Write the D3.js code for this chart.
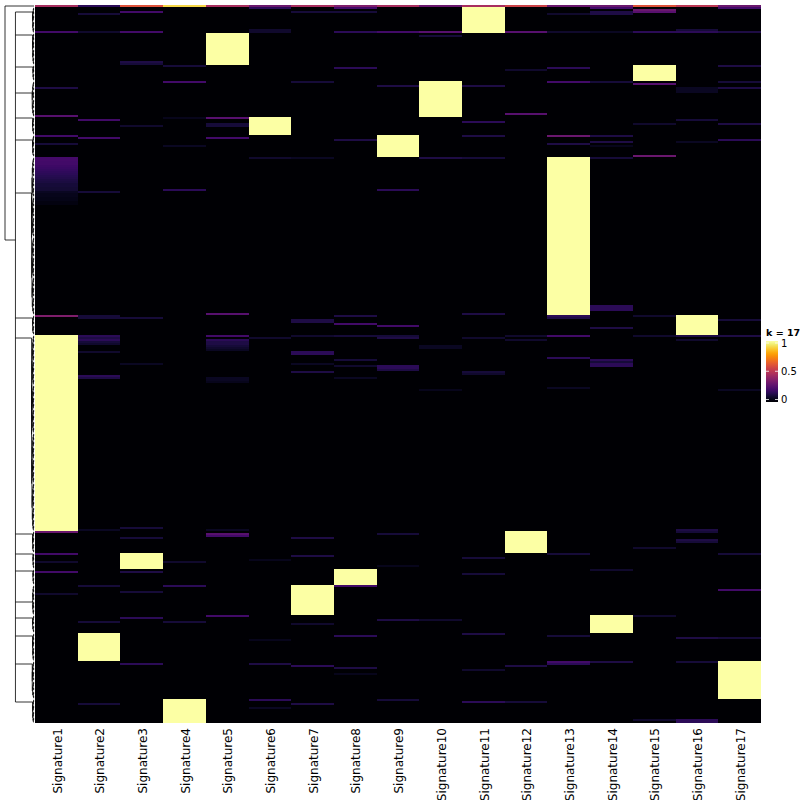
<!DOCTYPE html>
<html><head><meta charset="utf-8">
<script src="https://cdn.jsdelivr.net/npm/d3@7"></script>
<style>body{margin:0;background:#fff}svg{display:block}</style>
</head><body>
<svg id="chart" width="800" height="800"></svg>
<script>
// ---------------- DATA ----------------
const signatures = ["Signature1","Signature2","Signature3","Signature4","Signature5","Signature6","Signature7","Signature8","Signature9","Signature10","Signature11","Signature12","Signature13","Signature14","Signature15","Signature16","Signature17"];
// samples grouped into clusters (top to bottom): dominant signature and number of samples
const clusterSig  = [11, 5, 15, 10, 6, 9, 13, 16, 1, 12, 3, 8, 7, 14, 2, 17, 4];
const clusterSize = [14, 16, 8, 18, 9, 11, 79, 10, 98, 11, 8, 8, 15, 9, 14, 19, 12];
// first (mixed) sample row, values per signature
const firstRow = [0.45,0.15,0.6,0.9,0.45,0.3,0.45,0.35,0.45,0.3,0.45,0.55,0.3,0.3,0.6,0.5,0.3];
// Signature1 weights of the first samples of the Signature13 cluster (rows 76..99)
const sig1GradStart = 76;
const sig1Grad = [0.21,0.21,0.2,0.2,0.19,0.18,0.17,0.16,0.15,0.14,0.13,0.12,0.11,0.1,0.1,0.09,0.09,0.06,0.05,0.05,0.04,0.04,0.03,0.03];
// off-cluster weights: [row, signature number, value]
const stripes = [
 [1,6,0.15],[1,8,0.2],[1,14,0.2],[1,17,0.2],[2,15,0.3],[3,15,0.25],[3,3,0.2],[3,7,0.1],[3,8,0.1],[3,14,0.12],
 [4,2,0.1],[4,13,0.08],[4,14,0.12],[12,6,0.08],[12,16,0.1],
 [13,1,0.2],[13,2,0.08],[13,3,0.2],[13,6,0.08],[13,8,0.15],[13,9,0.2],[13,10,0.25],[13,12,0.25],[13,13,0.08],[13,14,0.06],[13,15,0.15],[13,16,0.15],[13,17,0.12],
 [15,10,0.1],[28,3,0.12],[29,3,0.1],[30,4,0.1],[30,17,0.12],[31,8,0.15],[31,13,0.15],[32,12,0.08],
 [38,7,0.1],[38,4,0.2],[38,14,0.1],[38,17,0.1],[38,13,0.2],[39,15,0.25],[40,9,0.12],[40,11,0.12],
 [41,1,0.12],[41,17,0.12],[41,16,0.06],[42,16,0.06],[43,16,0.06],
 [54,12,0.25],[55,1,0.25],[56,5,0.25],[56,4,0.05],[57,2,0.2],[57,16,0.1],[58,11,0.15],
 [59,5,0.1],[59,15,0.08],[59,17,0.12],[60,5,0.1],[60,3,0.08],
 [65,1,0.2],[65,11,0.12],[65,13,0.3],[65,14,0.12],[66,5,0.2],[66,2,0.2],[67,8,0.12],[67,17,0.15],
 [68,16,0.06],[68,14,0.12],[69,1,0.1],[69,13,0.12],[70,4,0.06],[70,14,0.05],[75,15,0.3],
 [76,6,0.08],[76,7,0.06],[76,10,0.12],[76,11,0.1],[76,14,0.1],[92,4,0.15],[92,9,0.15],[93,2,0.1],
 [150,14,0.15],[151,14,0.15],[152,14,0.15],[154,5,0.25],[154,11,0.12],
 [155,1,0.35],[155,2,0.1],[155,8,0.12],[155,13,0.15],[155,15,0.08],[156,2,0.1],[156,3,0.1],[156,13,0.12],
 [157,7,0.12],[157,17,0.1],[158,7,0.12],[159,8,0.2],[160,9,0.2],[161,14,0.12],
 [165,2,0.15],[165,5,0.2],[165,7,0.08],[165,8,0.1],[165,9,0.1],[165,12,0.08],[165,13,0.2],[165,15,0.08],[165,16,0.12],[165,17,0.12],
 [166,2,0.12],[166,6,0.08],[166,9,0.12],[166,11,0.08],[167,2,0.15],[167,5,0.15],[167,12,0.08],[167,16,0.08],
 [168,2,0.1],[168,5,0.12],[169,2,0.08],[169,5,0.12],[170,5,0.1],[170,10,0.06],[171,5,0.08],[171,10,0.06],[172,5,0.06],
 [173,2,0.08],[173,7,0.15],[174,7,0.15],[176,13,0.15],[177,14,0.15],[177,8,0.1],[178,14,0.1],
 [179,14,0.15],[179,3,0.06],[179,7,0.06],[180,14,0.15],[180,9,0.15],[180,8,0.08],[181,9,0.15],[182,9,0.12],
 [183,7,0.12],[183,11,0.1],[184,11,0.08],[185,2,0.15],[186,2,0.12],[186,8,0.06],[186,5,0.06],[187,5,0.06],[188,5,0.05],
 [191,13,0.06],[192,10,0.05],[192,17,0.06],
 [261,3,0.1],[262,2,0.06],[262,5,0.06],[262,16,0.12],[263,1,0.3],[263,16,0.1],[264,5,0.25],[264,9,0.1],[265,5,0.2],
 [266,3,0.1],[266,7,0.12],[267,16,0.12],[268,16,0.1],[271,15,0.08],[274,1,0.2],[274,13,0.1],[274,17,0.1],
 [275,7,0.12],[276,11,0.1],[277,6,0.05],[278,1,0.08],[278,4,0.08],[280,9,0.05],[282,14,0.08],[283,1,0.2],[283,3,0.12],
 [284,11,0.1],[290,2,0.1],[290,4,0.15],[290,8,0.2],[292,17,0.2],[293,3,0.1],[294,1,0.08],
 [305,5,0.2],[305,15,0.08],[306,3,0.15],[307,9,0.12],[307,10,0.08],[308,2,0.1],[308,4,0.1],[309,7,0.08],
 [314,11,0.12],[315,8,0.15],[315,13,0.1],[316,16,0.12],[316,17,0.1],[317,6,0.05],
 [328,13,0.2],[328,14,0.12],[328,16,0.1],[329,3,0.15],[329,6,0.12],[329,13,0.15],[330,7,0.15],[330,12,0.12],
 [331,8,0.12],[332,11,0.08],[334,8,0.05],[347,9,0.1],[347,6,0.15],[348,11,0.15],[348,12,0.1],
 [349,2,0.1],[349,7,0.12],[351,6,0.06],[357,15,0.08],[357,16,0.15],[358,16,0.15]
];
// dendrogram: rows (sample index units) where each cluster joins the upper tree
const clusterJoinRow = [3.5, 15, 31, 44, 56.5, 67.5, 94, 156.5, 166.5, 264.5, 274.5, 283, 298.5, 306.5, 315.5, 329.5, 348.5];
const chainHeight = 0.64;      // merge height of the clusters (relative)
const rootHeight = 1;          // root merge height
const rootJoinRow = 117.5;     // row position of the big subtree joined at the root
const withinStep = 0.012;      // merge height step inside clusters
const legendTitle = "k = 17";
const legendTicks = [0, 0.5, 1];
const legendLabels = ["0", "0.5", "1"];

// ---------------- BUILD MATRIX ----------------
const matrix = [];
clusterSig.forEach((s, k) => {
  for (let i = 0; i < clusterSize[k]; i++) {
    const row = new Array(17).fill(0);
    row[s - 1] = 1;
    matrix.push(row);
  }
});
firstRow.forEach((v, j) => matrix[0][j] = v);
sig1Grad.forEach((v, i) => matrix[sig1GradStart + i][0] = v);
stripes.forEach(([row, s, v]) => { if (matrix[row][s - 1] < 1) matrix[row][s - 1] = v; });
const nRows = matrix.length;

// ---------------- SCALES ----------------
const svg = d3.select("#chart");
const x = d3.scaleBand().domain(signatures).range([35, 761]);
const y = d3.scaleBand().domain(d3.range(nRows)).range([5, 723]);
const yPos = p => y.range()[0] + p * y.step(); // fractional row position
const color = d3.scaleSequential(d3.interpolateInferno).domain([0, 1]);
const dx = d3.scaleLinear().domain([0, 1]).range([34, 5]);

// ---------------- HEATMAP ----------------
const cells = [];
matrix.forEach((row, i) => row.forEach((v, j) => cells.push({i, j, v})));
svg.append("g").attr("shape-rendering", "crispEdges")
  .selectAll("rect").data(cells).join("rect")
  .attr("x", d => x(signatures[d.j]))
  .attr("y", d => y(d.i))
  .attr("width", x.bandwidth())
  .attr("height", y.bandwidth())
  .attr("fill", d => color(d.v));

// ---------------- DENDROGRAM ----------------
const path = d3.path();
function seg(x1, y1, x2, y2) { path.moveTo(x1, y1); path.lineTo(x2, y2); }
function build(lo, hi) {
  if (lo === hi) return {y: yPos(lo + 0.5), h: 0};
  const mid = Math.floor((lo + hi) / 2);
  const a = build(lo, mid), b = build(mid + 1, hi);
  const h = Math.max(a.h, b.h) + withinStep;
  seg(dx(a.h), a.y, dx(h), a.y);
  seg(dx(b.h), b.y, dx(h), b.y);
  seg(dx(h), a.y, dx(h), b.y);
  return {y: (a.y + b.y) / 2, h};
}
let start = 0;
clusterSize.forEach((n, k) => {
  const lo = k === 0 ? 1 : start;
  const hi = start + n - 1;
  const root = build(lo, hi);
  const jy = yPos(clusterJoinRow[k]);
  seg(dx(chainHeight), jy, dx(root.h), jy);
  seg(dx(root.h), jy, dx(root.h), root.y);
  start += n;
});
seg(dx(chainHeight), yPos(d3.min(clusterJoinRow)), dx(chainHeight), yPos(d3.max(clusterJoinRow)));
seg(dx(rootHeight), yPos(0.5), dx(rootHeight), yPos(rootJoinRow));
seg(dx(rootHeight), yPos(0.5), dx(0), yPos(0.5));
seg(dx(rootHeight), yPos(rootJoinRow), dx(chainHeight), yPos(rootJoinRow));
svg.append("path").attr("d", path.toString())
  .attr("fill", "none").attr("stroke", "#000").attr("stroke-width", 0.8);

// ---------------- COLUMN LABELS ----------------
svg.append("g").selectAll("text").data(signatures).join("text")
  .attr("transform", d => `translate(${x(d) + x.bandwidth() / 2 + 1},728) rotate(-90)`)
  .attr("text-anchor", "end")
  .attr("dy", "0.35em")
  .attr("font-family", "DejaVu Sans, sans-serif")
  .attr("font-size", 12)
  .attr("fill", "#000")
  .text(d => d);

// ---------------- LEGEND ----------------
const lg = svg.append("g");
const defs = svg.append("defs");
const grad = defs.append("linearGradient").attr("id", "lgrad")
  .attr("x1", 0).attr("y1", 1).attr("x2", 0).attr("y2", 0);
d3.range(0, 1.0001, 0.05).forEach(t => grad.append("stop").attr("offset", t).attr("stop-color", color(t)));
const ly = d3.scaleLinear().domain([0, 1]).range([399.5, 343]);
lg.append("text").attr("x", 766).attr("y", 336)
  .attr("font-family", "DejaVu Sans, sans-serif").attr("font-size", 9.5).attr("font-weight", "bold")
  .text(legendTitle);
lg.append("rect").attr("x", 766).attr("y", 341).attr("width", 12).attr("height", 61)
  .attr("fill", "url(#lgrad)");
legendTicks.forEach((t, i) => {
  lg.append("line").attr("x1", 766).attr("x2", 769).attr("y1", ly(t)).attr("y2", ly(t)).attr("stroke", "#fff").attr("stroke-width", 0.8);
  lg.append("line").attr("x1", 775).attr("x2", 778).attr("y1", ly(t)).attr("y2", ly(t)).attr("stroke", "#fff").attr("stroke-width", 0.8);
  lg.append("text").attr("x", 781).attr("y", ly(t)).attr("dy", "0.35em")
    .attr("font-family", "DejaVu Sans, sans-serif").attr("font-size", 10)
    .text(legendLabels[i]);
});
</script>
</body></html>
